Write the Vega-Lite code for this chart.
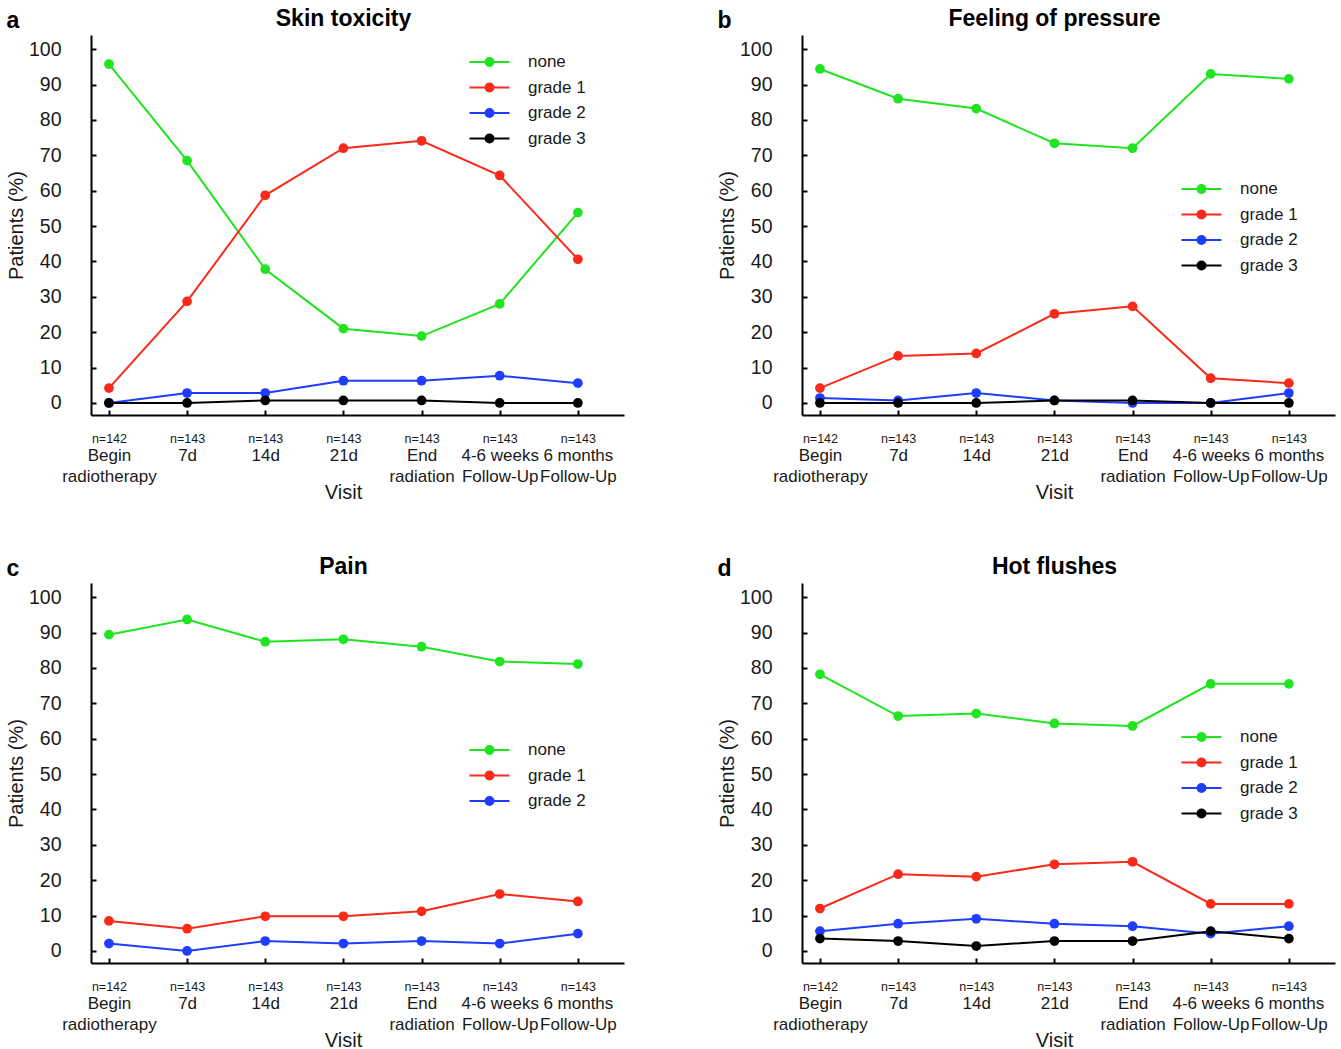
{
  "$schema": "https://vega.github.io/schema/vega-lite/v6.json",
  "background": "white",
  "padding": {"left": 6, "top": 8, "right": 2, "bottom": 0},
  "config": {
    "view": {"stroke": null},
    "font": "Liberation Sans",
    "axis": {"grid": false, "domainColor": "#000", "domainWidth": 2, "tickColor": "#000", "tickWidth": 2, "labelColor": "#1a1a1a", "titleColor": "#1a1a1a", "labelFont": "Liberation Sans", "titleFont": "Liberation Sans", "titleFontWeight": "normal"},
    "axisY": {"title": "Patients (%)", "values": [0, 10, 20, 30, 40, 50, 60, 70, 80, 90, 100], "labelOverlap": false, "labelFontSize": 19.5, "titleFontSize": 20, "tickSize": -5, "labelPadding": 35, "titlePadding": 2},
    "title": {"font": "Liberation Sans", "fontWeight": "bold", "fontSize": 23, "color": "#000"},
    "legend": {"labelFont": "Liberation Sans", "labelColor": "#1a1a1a"}
  },
  "datasets": {
    "skin": [
      {"visit": "Begin radiotherapy", "grade": "none", "pct": 95.8},
      {"visit": "7d", "grade": "none", "pct": 68.5},
      {"visit": "14d", "grade": "none", "pct": 37.8},
      {"visit": "21d", "grade": "none", "pct": 21.0},
      {"visit": "End radiation", "grade": "none", "pct": 18.9},
      {"visit": "4-6 weeks Follow-Up", "grade": "none", "pct": 28.0},
      {"visit": "6 months Follow-Up", "grade": "none", "pct": 53.8},
      {"visit": "Begin radiotherapy", "grade": "grade 1", "pct": 4.2},
      {"visit": "7d", "grade": "grade 1", "pct": 28.7},
      {"visit": "14d", "grade": "grade 1", "pct": 58.7},
      {"visit": "21d", "grade": "grade 1", "pct": 72.0},
      {"visit": "End radiation", "grade": "grade 1", "pct": 74.1},
      {"visit": "4-6 weeks Follow-Up", "grade": "grade 1", "pct": 64.3},
      {"visit": "6 months Follow-Up", "grade": "grade 1", "pct": 40.6},
      {"visit": "Begin radiotherapy", "grade": "grade 2", "pct": 0},
      {"visit": "7d", "grade": "grade 2", "pct": 2.8},
      {"visit": "14d", "grade": "grade 2", "pct": 2.8},
      {"visit": "21d", "grade": "grade 2", "pct": 6.3},
      {"visit": "End radiation", "grade": "grade 2", "pct": 6.3},
      {"visit": "4-6 weeks Follow-Up", "grade": "grade 2", "pct": 7.7},
      {"visit": "6 months Follow-Up", "grade": "grade 2", "pct": 5.6},
      {"visit": "Begin radiotherapy", "grade": "grade 3", "pct": 0},
      {"visit": "7d", "grade": "grade 3", "pct": 0},
      {"visit": "14d", "grade": "grade 3", "pct": 0.7},
      {"visit": "21d", "grade": "grade 3", "pct": 0.7},
      {"visit": "End radiation", "grade": "grade 3", "pct": 0.7},
      {"visit": "4-6 weeks Follow-Up", "grade": "grade 3", "pct": 0},
      {"visit": "6 months Follow-Up", "grade": "grade 3", "pct": 0}
    ],
    "pressure": [
      {"visit": "Begin radiotherapy", "grade": "none", "pct": 94.4},
      {"visit": "7d", "grade": "none", "pct": 86.0},
      {"visit": "14d", "grade": "none", "pct": 83.2},
      {"visit": "21d", "grade": "none", "pct": 73.4},
      {"visit": "End radiation", "grade": "none", "pct": 72.0},
      {"visit": "4-6 weeks Follow-Up", "grade": "none", "pct": 93.0},
      {"visit": "6 months Follow-Up", "grade": "none", "pct": 91.6},
      {"visit": "Begin radiotherapy", "grade": "grade 1", "pct": 4.2},
      {"visit": "7d", "grade": "grade 1", "pct": 13.3},
      {"visit": "14d", "grade": "grade 1", "pct": 14.0},
      {"visit": "21d", "grade": "grade 1", "pct": 25.2},
      {"visit": "End radiation", "grade": "grade 1", "pct": 27.3},
      {"visit": "4-6 weeks Follow-Up", "grade": "grade 1", "pct": 7.0},
      {"visit": "6 months Follow-Up", "grade": "grade 1", "pct": 5.6},
      {"visit": "Begin radiotherapy", "grade": "grade 2", "pct": 1.4},
      {"visit": "7d", "grade": "grade 2", "pct": 0.7},
      {"visit": "14d", "grade": "grade 2", "pct": 2.8},
      {"visit": "21d", "grade": "grade 2", "pct": 0.7},
      {"visit": "End radiation", "grade": "grade 2", "pct": 0},
      {"visit": "4-6 weeks Follow-Up", "grade": "grade 2", "pct": 0},
      {"visit": "6 months Follow-Up", "grade": "grade 2", "pct": 2.8},
      {"visit": "Begin radiotherapy", "grade": "grade 3", "pct": 0},
      {"visit": "7d", "grade": "grade 3", "pct": 0},
      {"visit": "14d", "grade": "grade 3", "pct": 0},
      {"visit": "21d", "grade": "grade 3", "pct": 0.7},
      {"visit": "End radiation", "grade": "grade 3", "pct": 0.7},
      {"visit": "4-6 weeks Follow-Up", "grade": "grade 3", "pct": 0},
      {"visit": "6 months Follow-Up", "grade": "grade 3", "pct": 0}
    ],
    "pain": [
      {"visit": "Begin radiotherapy", "grade": "none", "pct": 89.4},
      {"visit": "7d", "grade": "none", "pct": 93.7},
      {"visit": "14d", "grade": "none", "pct": 87.4},
      {"visit": "21d", "grade": "none", "pct": 88.1},
      {"visit": "End radiation", "grade": "none", "pct": 86.0},
      {"visit": "4-6 weeks Follow-Up", "grade": "none", "pct": 81.8},
      {"visit": "6 months Follow-Up", "grade": "none", "pct": 81.1},
      {"visit": "Begin radiotherapy", "grade": "grade 1", "pct": 8.5},
      {"visit": "7d", "grade": "grade 1", "pct": 6.3},
      {"visit": "14d", "grade": "grade 1", "pct": 9.8},
      {"visit": "21d", "grade": "grade 1", "pct": 9.8},
      {"visit": "End radiation", "grade": "grade 1", "pct": 11.2},
      {"visit": "4-6 weeks Follow-Up", "grade": "grade 1", "pct": 16.1},
      {"visit": "6 months Follow-Up", "grade": "grade 1", "pct": 14.0},
      {"visit": "Begin radiotherapy", "grade": "grade 2", "pct": 2.1},
      {"visit": "7d", "grade": "grade 2", "pct": 0},
      {"visit": "14d", "grade": "grade 2", "pct": 2.8},
      {"visit": "21d", "grade": "grade 2", "pct": 2.1},
      {"visit": "End radiation", "grade": "grade 2", "pct": 2.8},
      {"visit": "4-6 weeks Follow-Up", "grade": "grade 2", "pct": 2.1},
      {"visit": "6 months Follow-Up", "grade": "grade 2", "pct": 4.9}
    ],
    "flushes": [
      {"visit": "Begin radiotherapy", "grade": "none", "pct": 78.2},
      {"visit": "7d", "grade": "none", "pct": 66.4},
      {"visit": "14d", "grade": "none", "pct": 67.1},
      {"visit": "21d", "grade": "none", "pct": 64.3},
      {"visit": "End radiation", "grade": "none", "pct": 63.6},
      {"visit": "4-6 weeks Follow-Up", "grade": "none", "pct": 75.5},
      {"visit": "6 months Follow-Up", "grade": "none", "pct": 75.5},
      {"visit": "Begin radiotherapy", "grade": "grade 1", "pct": 12.0},
      {"visit": "7d", "grade": "grade 1", "pct": 21.7},
      {"visit": "14d", "grade": "grade 1", "pct": 21.0},
      {"visit": "21d", "grade": "grade 1", "pct": 24.5},
      {"visit": "End radiation", "grade": "grade 1", "pct": 25.2},
      {"visit": "4-6 weeks Follow-Up", "grade": "grade 1", "pct": 13.3},
      {"visit": "6 months Follow-Up", "grade": "grade 1", "pct": 13.3},
      {"visit": "Begin radiotherapy", "grade": "grade 2", "pct": 5.6},
      {"visit": "7d", "grade": "grade 2", "pct": 7.7},
      {"visit": "14d", "grade": "grade 2", "pct": 9.1},
      {"visit": "21d", "grade": "grade 2", "pct": 7.7},
      {"visit": "End radiation", "grade": "grade 2", "pct": 7.0},
      {"visit": "4-6 weeks Follow-Up", "grade": "grade 2", "pct": 4.9},
      {"visit": "6 months Follow-Up", "grade": "grade 2", "pct": 7.0},
      {"visit": "Begin radiotherapy", "grade": "grade 3", "pct": 3.5},
      {"visit": "7d", "grade": "grade 3", "pct": 2.8},
      {"visit": "14d", "grade": "grade 3", "pct": 1.4},
      {"visit": "21d", "grade": "grade 3", "pct": 2.8},
      {"visit": "End radiation", "grade": "grade 3", "pct": 2.8},
      {"visit": "4-6 weeks Follow-Up", "grade": "grade 3", "pct": 5.6},
      {"visit": "6 months Follow-Up", "grade": "grade 3", "pct": 3.5}
    ]
  },
  "columns": 2,
  "spacing": {"row": 54, "column": 93},
  "resolve": {"scale": {"color": "independent"}, "legend": {"color": "independent"}},
  "concat": [
    {
      "title": {"text": "a", "anchor": "start", "frame": "bounds", "offset": -25},
      "resolve": {"scale": {"color": "independent"}, "legend": {"color": "independent"}},
      "vconcat": [
        {
          "title": {"text": "Skin toxicity", "anchor": "middle", "dx": -14, "offset": 4},
          "width": 533, "height": 380,
          "data": {"name": "skin"},
          "resolve": {"axis": {"x": "independent"}},
          "layer": [
            {
              "mark": {"type": "line", "strokeWidth": 2},
              "encoding": {
                "x": {"field": "visit", "type": "ordinal", "sort": ["Begin radiotherapy", "7d", "14d", "21d", "End radiation", "4-6 weeks Follow-Up", "6 months Follow-Up"], "scale": {"type": "point", "padding": 0.41, "align": 0.28},
                  "axis": {"orient": "bottom", "title": null, "labelAngle": 0, "labelFontSize": 12.5, "labelBaseline": "top", "labelPadding": 22, "tickSize": -5, "labelOverlap": false, "labelFlush": false, "labelBound": false, "labelExpr": "datum.value == 'Begin radiotherapy' ? 'n=142' : 'n=143'"}},
                "y": {"field": "pct", "type": "quantitative", "scale": {"domain": [-3.4, 104], "nice": false, "zero": false}, "title": "Patients (%)"},
                "color": {"field": "grade", "type": "nominal", "scale": {"domain": ["none", "grade 1", "grade 2", "grade 3"], "range": ["#1fe41f", "#fa2a1a", "#1f3dff", "#000000"]},
                  "legend": {"orient": "none", "legendX": 390, "legendY": 18.5, "title": null, "padding": 0, "labelFontSize": 17, "labelOffset": 30, "rowPadding": 7.5, "symbolSize": 100, "symbolStrokeWidth": 2, "symbolType": "M-4,0L4,0M-0.8,0A0.8,0.8,0,1,0,0.8,0A0.8,0.8,0,1,0,-0.8,0",
                    "encode": {"symbols": {"update": {"fill": {"signal": "datum.value == 'none' ? '#1fe41f' : datum.value == 'grade 1' ? '#fa2a1a' : datum.value == 'grade 2' ? '#1f3dff' : '#000000'"}, "fillOpacity": {"value": 1}}}}}}
              }
            },
            {
              "mark": {"type": "circle", "size": 95, "opacity": 1},
              "encoding": {
                "x": {"field": "visit", "type": "ordinal", "sort": ["Begin radiotherapy", "7d", "14d", "21d", "End radiation", "4-6 weeks Follow-Up", "6 months Follow-Up"],
                  "axis": {"orient": "bottom", "title": "Visit", "titleFontSize": 20, "titleX": 252, "titlePadding": -2, "domain": false, "ticks": false, "labelAngle": 0, "labelFontSize": 17, "labelLineHeight": 21, "labelBaseline": "top", "labelPadding": 32, "labelOverlap": false, "labelFlush": false, "labelBound": false, "labelExpr": "datum.value == 'Begin radiotherapy' ? ['Begin', 'radiotherapy'] : datum.value == 'End radiation' ? ['End', 'radiation'] : datum.value == '4-6 weeks Follow-Up' ? ['4-6 weeks', 'Follow-Up'] : datum.value == '6 months Follow-Up' ? ['6 months', 'Follow-Up'] : datum.value"}},
                "y": {"field": "pct", "type": "quantitative", "title": "Patients (%)"},
                "color": {"field": "grade", "type": "nominal", "legend": null}
              }
            }
          ]
        }
      ]
    },
    {
      "title": {"text": "b", "anchor": "start", "frame": "bounds", "offset": -25},
      "resolve": {"scale": {"color": "independent"}, "legend": {"color": "independent"}},
      "vconcat": [
        {
          "title": {"text": "Feeling of pressure", "anchor": "middle", "dx": -14, "offset": 4},
          "width": 533, "height": 380,
          "data": {"name": "pressure"},
          "resolve": {"axis": {"x": "independent"}},
          "layer": [
            {
              "mark": {"type": "line", "strokeWidth": 2},
              "encoding": {
                "x": {"field": "visit", "type": "ordinal", "sort": ["Begin radiotherapy", "7d", "14d", "21d", "End radiation", "4-6 weeks Follow-Up", "6 months Follow-Up"], "scale": {"type": "point", "padding": 0.41, "align": 0.28},
                  "axis": {"orient": "bottom", "title": null, "labelAngle": 0, "labelFontSize": 12.5, "labelBaseline": "top", "labelPadding": 22, "tickSize": -5, "labelOverlap": false, "labelFlush": false, "labelBound": false, "labelExpr": "datum.value == 'Begin radiotherapy' ? 'n=142' : 'n=143'"}},
                "y": {"field": "pct", "type": "quantitative", "scale": {"domain": [-3.4, 104], "nice": false, "zero": false}, "title": "Patients (%)"},
                "color": {"field": "grade", "type": "nominal", "scale": {"domain": ["none", "grade 1", "grade 2", "grade 3"], "range": ["#1fe41f", "#fa2a1a", "#1f3dff", "#000000"]},
                  "legend": {"orient": "none", "legendX": 391, "legendY": 145.5, "title": null, "padding": 0, "labelFontSize": 17, "labelOffset": 30, "rowPadding": 7.5, "symbolSize": 100, "symbolStrokeWidth": 2, "symbolType": "M-4,0L4,0M-0.8,0A0.8,0.8,0,1,0,0.8,0A0.8,0.8,0,1,0,-0.8,0",
                    "encode": {"symbols": {"update": {"fill": {"signal": "datum.value == 'none' ? '#1fe41f' : datum.value == 'grade 1' ? '#fa2a1a' : datum.value == 'grade 2' ? '#1f3dff' : '#000000'"}, "fillOpacity": {"value": 1}}}}}}
              }
            },
            {
              "mark": {"type": "circle", "size": 95, "opacity": 1},
              "encoding": {
                "x": {"field": "visit", "type": "ordinal", "sort": ["Begin radiotherapy", "7d", "14d", "21d", "End radiation", "4-6 weeks Follow-Up", "6 months Follow-Up"],
                  "axis": {"orient": "bottom", "title": "Visit", "titleFontSize": 20, "titleX": 252, "titlePadding": -2, "domain": false, "ticks": false, "labelAngle": 0, "labelFontSize": 17, "labelLineHeight": 21, "labelBaseline": "top", "labelPadding": 32, "labelOverlap": false, "labelFlush": false, "labelBound": false, "labelExpr": "datum.value == 'Begin radiotherapy' ? ['Begin', 'radiotherapy'] : datum.value == 'End radiation' ? ['End', 'radiation'] : datum.value == '4-6 weeks Follow-Up' ? ['4-6 weeks', 'Follow-Up'] : datum.value == '6 months Follow-Up' ? ['6 months', 'Follow-Up'] : datum.value"}},
                "y": {"field": "pct", "type": "quantitative", "title": "Patients (%)"},
                "color": {"field": "grade", "type": "nominal", "legend": null}
              }
            }
          ]
        }
      ]
    },
    {
      "title": {"text": "c", "anchor": "start", "frame": "bounds", "offset": -25},
      "resolve": {"scale": {"color": "independent"}, "legend": {"color": "independent"}},
      "vconcat": [
        {
          "title": {"text": "Pain", "anchor": "middle", "dx": -14, "offset": 4},
          "width": 533, "height": 380,
          "data": {"name": "pain"},
          "resolve": {"axis": {"x": "independent"}},
          "layer": [
            {
              "mark": {"type": "line", "strokeWidth": 2},
              "encoding": {
                "x": {"field": "visit", "type": "ordinal", "sort": ["Begin radiotherapy", "7d", "14d", "21d", "End radiation", "4-6 weeks Follow-Up", "6 months Follow-Up"], "scale": {"type": "point", "padding": 0.41, "align": 0.28},
                  "axis": {"orient": "bottom", "title": null, "labelAngle": 0, "labelFontSize": 12.5, "labelBaseline": "top", "labelPadding": 22, "tickSize": -5, "labelOverlap": false, "labelFlush": false, "labelBound": false, "labelExpr": "datum.value == 'Begin radiotherapy' ? 'n=142' : 'n=143'"}},
                "y": {"field": "pct", "type": "quantitative", "scale": {"domain": [-3.4, 104], "nice": false, "zero": false}, "title": "Patients (%)"},
                "color": {"field": "grade", "type": "nominal", "scale": {"domain": ["none", "grade 1", "grade 2"], "range": ["#1fe41f", "#fa2a1a", "#1f3dff"]},
                  "legend": {"orient": "none", "legendX": 390, "legendY": 158.5, "title": null, "padding": 0, "labelFontSize": 17, "labelOffset": 30, "rowPadding": 7.5, "symbolSize": 100, "symbolStrokeWidth": 2, "symbolType": "M-4,0L4,0M-0.8,0A0.8,0.8,0,1,0,0.8,0A0.8,0.8,0,1,0,-0.8,0",
                    "encode": {"symbols": {"update": {"fill": {"signal": "datum.value == 'none' ? '#1fe41f' : datum.value == 'grade 1' ? '#fa2a1a' : datum.value == 'grade 2' ? '#1f3dff' : '#000000'"}, "fillOpacity": {"value": 1}}}}}}
              }
            },
            {
              "mark": {"type": "circle", "size": 95, "opacity": 1},
              "encoding": {
                "x": {"field": "visit", "type": "ordinal", "sort": ["Begin radiotherapy", "7d", "14d", "21d", "End radiation", "4-6 weeks Follow-Up", "6 months Follow-Up"],
                  "axis": {"orient": "bottom", "title": "Visit", "titleFontSize": 20, "titleX": 252, "titlePadding": -2, "domain": false, "ticks": false, "labelAngle": 0, "labelFontSize": 17, "labelLineHeight": 21, "labelBaseline": "top", "labelPadding": 32, "labelOverlap": false, "labelFlush": false, "labelBound": false, "labelExpr": "datum.value == 'Begin radiotherapy' ? ['Begin', 'radiotherapy'] : datum.value == 'End radiation' ? ['End', 'radiation'] : datum.value == '4-6 weeks Follow-Up' ? ['4-6 weeks', 'Follow-Up'] : datum.value == '6 months Follow-Up' ? ['6 months', 'Follow-Up'] : datum.value"}},
                "y": {"field": "pct", "type": "quantitative", "title": "Patients (%)"},
                "color": {"field": "grade", "type": "nominal", "legend": null}
              }
            }
          ]
        }
      ]
    },
    {
      "title": {"text": "d", "anchor": "start", "frame": "bounds", "offset": -25},
      "resolve": {"scale": {"color": "independent"}, "legend": {"color": "independent"}},
      "vconcat": [
        {
          "title": {"text": "Hot flushes", "anchor": "middle", "dx": -14, "offset": 4},
          "width": 533, "height": 380,
          "data": {"name": "flushes"},
          "resolve": {"axis": {"x": "independent"}},
          "layer": [
            {
              "mark": {"type": "line", "strokeWidth": 2},
              "encoding": {
                "x": {"field": "visit", "type": "ordinal", "sort": ["Begin radiotherapy", "7d", "14d", "21d", "End radiation", "4-6 weeks Follow-Up", "6 months Follow-Up"], "scale": {"type": "point", "padding": 0.41, "align": 0.28},
                  "axis": {"orient": "bottom", "title": null, "labelAngle": 0, "labelFontSize": 12.5, "labelBaseline": "top", "labelPadding": 22, "tickSize": -5, "labelOverlap": false, "labelFlush": false, "labelBound": false, "labelExpr": "datum.value == 'Begin radiotherapy' ? 'n=142' : 'n=143'"}},
                "y": {"field": "pct", "type": "quantitative", "scale": {"domain": [-3.4, 104], "nice": false, "zero": false}, "title": "Patients (%)"},
                "color": {"field": "grade", "type": "nominal", "scale": {"domain": ["none", "grade 1", "grade 2", "grade 3"], "range": ["#1fe41f", "#fa2a1a", "#1f3dff", "#000000"]},
                  "legend": {"orient": "none", "legendX": 391, "legendY": 145.5, "title": null, "padding": 0, "labelFontSize": 17, "labelOffset": 30, "rowPadding": 7.5, "symbolSize": 100, "symbolStrokeWidth": 2, "symbolType": "M-4,0L4,0M-0.8,0A0.8,0.8,0,1,0,0.8,0A0.8,0.8,0,1,0,-0.8,0",
                    "encode": {"symbols": {"update": {"fill": {"signal": "datum.value == 'none' ? '#1fe41f' : datum.value == 'grade 1' ? '#fa2a1a' : datum.value == 'grade 2' ? '#1f3dff' : '#000000'"}, "fillOpacity": {"value": 1}}}}}}
              }
            },
            {
              "mark": {"type": "circle", "size": 95, "opacity": 1},
              "encoding": {
                "x": {"field": "visit", "type": "ordinal", "sort": ["Begin radiotherapy", "7d", "14d", "21d", "End radiation", "4-6 weeks Follow-Up", "6 months Follow-Up"],
                  "axis": {"orient": "bottom", "title": "Visit", "titleFontSize": 20, "titleX": 252, "titlePadding": -2, "domain": false, "ticks": false, "labelAngle": 0, "labelFontSize": 17, "labelLineHeight": 21, "labelBaseline": "top", "labelPadding": 32, "labelOverlap": false, "labelFlush": false, "labelBound": false, "labelExpr": "datum.value == 'Begin radiotherapy' ? ['Begin', 'radiotherapy'] : datum.value == 'End radiation' ? ['End', 'radiation'] : datum.value == '4-6 weeks Follow-Up' ? ['4-6 weeks', 'Follow-Up'] : datum.value == '6 months Follow-Up' ? ['6 months', 'Follow-Up'] : datum.value"}},
                "y": {"field": "pct", "type": "quantitative", "title": "Patients (%)"},
                "color": {"field": "grade", "type": "nominal", "legend": null}
              }
            }
          ]
        }
      ]
    }
  ]
}
